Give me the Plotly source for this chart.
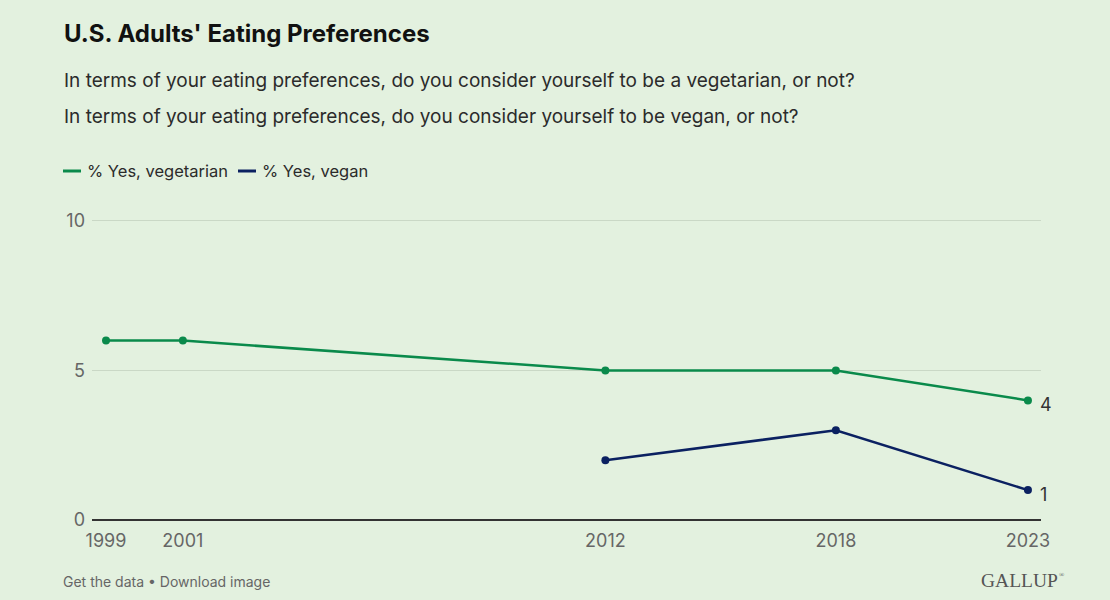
import plotly.graph_objects as go

years_veg = [1999, 2001, 2012, 2018, 2023]
veg = [6, 6, 5, 5, 4]
years_vegan = [2012, 2018, 2023]
vegan = [2, 3, 1]
x_ticks = [1999, 2001, 2012, 2018, 2023]
y_ticks = [0, 5, 10]

GREEN = "#0a8a4b"
NAVY = "#0b2161"
BG = "#e3f1df"
FONT = "Inter"

W, H = 1110, 600
L, R, T, B = 92, 69, 218, 80
PW = W - L - R
PH = H - T - B

def px(xp):
    return (xp - L) / PW

def py(yp):
    return (H - B - yp) / PH

fig = go.Figure()
fig.add_trace(go.Scatter(x=years_veg, y=veg, mode="lines+markers", name="% Yes, vegetarian",
                         line=dict(color=GREEN, width=2.5), marker=dict(size=8, color=GREEN),
                         cliponaxis=False, hoverinfo="x+y"))
fig.add_trace(go.Scatter(x=years_vegan, y=vegan, mode="lines+markers", name="% Yes, vegan",
                         line=dict(color=NAVY, width=2.5), marker=dict(size=8, color=NAVY),
                         cliponaxis=False, hoverinfo="x+y"))

# end labels
for xs, ys in [(years_veg, veg), (years_vegan, vegan)]:
    fig.add_annotation(x=xs[-1], y=ys[-1], text=str(ys[-1]), showarrow=False,
                       xanchor="left", yanchor="middle", xshift=10, yshift=-4,
                       font=dict(family=FONT, size=18, color="#333333"))

annots = [
    dict(text="<b>U.S. Adults' Eating Preferences</b>", x=62, y=33, size=24, color="#111111"),
    dict(text="In terms of your eating preferences, do you consider yourself to be a vegetarian, or not?",
         x=62, y=80, size=19, color="#2b2b2b"),
    dict(text="In terms of your eating preferences, do you consider yourself to be vegan, or not?",
         x=62, y=116, size=19, color="#2b2b2b"),
    dict(text="% Yes, vegetarian", x=85, y=171, size=16.5, color="#2b2b2b"),
    dict(text="% Yes, vegan", x=260, y=171, size=16.5, color="#2b2b2b"),
    dict(text="Get the data • Download image", x=61, y=581, size=14, color="#666666"),
]
for a in annots:
    fig.add_annotation(text=a["text"], xref="paper", yref="paper", x=px(a["x"]), y=py(a["y"]),
                       xanchor="left", yanchor="middle", showarrow=False,
                       font=dict(family=FONT, size=a["size"], color=a["color"]))

# legend line glyphs
for x0, c in [(63, GREEN), (238, NAVY)]:
    fig.add_shape(type="line", xref="paper", yref="paper", x0=px(x0), x1=px(x0 + 18),
                  y0=py(171), y1=py(171), line=dict(color=c, width=3))

fig.add_annotation(text="GALLUP", xref="paper", yref="paper",
                   x=px(1060), y=py(580), xanchor="right", yanchor="middle", showarrow=False,
                   font=dict(family="Liberation Serif", size=19.5, color="#555555"))
fig.add_annotation(text="®", xref="paper", yref="paper",
                   x=px(1057), y=py(575), xanchor="left", yanchor="middle", showarrow=False,
                   font=dict(family="Liberation Serif", size=7, color="#555555"))

fig.update_layout(
    width=W, height=H,
    margin=dict(l=L, r=R, t=T, b=B),
    paper_bgcolor=BG, plot_bgcolor=BG,
    showlegend=False,
    font=dict(family=FONT),
    xaxis=dict(range=[1998.635, 2023.34], tickvals=x_ticks, ticktext=[str(v) for v in x_ticks],
               showgrid=False, zeroline=False, showline=False, ticks="",
               ticklabelstandoff=8,
               tickfont=dict(family=FONT, size=18, color="#666666"), fixedrange=True),
    yaxis=dict(range=[0, 10.1], tickvals=y_ticks, showgrid=True, gridcolor="#cad8c6", gridwidth=1,
               zeroline=True, zerolinecolor="#333333", zerolinewidth=1.5, showline=False, ticks="",
               ticklabelstandoff=6,
               tickfont=dict(family=FONT, size=18, color="#666666"), fixedrange=True),
)

fig.write_html("out.html", config={"displayModeBar": False},
               post_script="document.body.style.margin='0';document.body.style.background='" + BG + "';")
